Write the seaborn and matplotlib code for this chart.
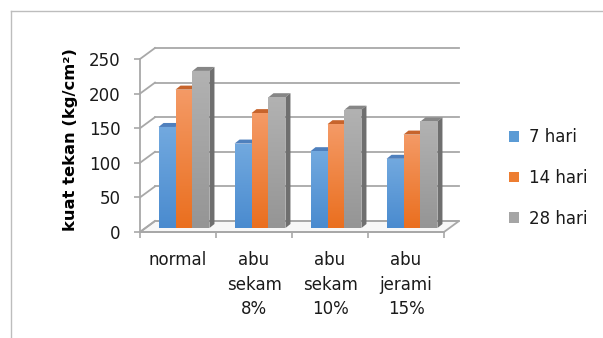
import numpy as np
import pandas as pd
import matplotlib
matplotlib.use("Agg")
import matplotlib.pyplot as plt
import seaborn as sns
from matplotlib.transforms import offset_copy
from matplotlib.patches import Polygon, Rectangle
from matplotlib.lines import Line2D
from matplotlib.colors import to_rgb

# ---------------- data ----------------
categories = ["normal", "abu\nsekam\n8%", "abu\nsekam\n10%", "abu\njerami\n15%"]
series = ["7 hari", "14 hari", "28 hari"]
vals_7 = [146, 122, 111, 100]
vals_14 = [200, 166, 150, 135]
vals_28 = [227, 189, 171, 154]
y_ticks = [0, 50, 100, 150, 200, 250]
y_label = "kuat tekan (kg/cm²)"

# ---------------- style ----------------
palette = ["#5B9BD5", "#ED7D31", "#A5A5A5"]
grad_top = ["#72a9df", "#f49a66", "#b2b2b2"]
grad_bot = ["#4a8bcf", "#ea6f1f", "#959595"]
top_face = ["#4f80bd", "#c7642c", "#868686"]
side_face = ["#3d6d9e", "#b05a20", "#6f6f6f"]
grid_col = "#a8a8a8"

df = pd.DataFrame({
    "kategori": categories * 3,
    "hari": np.repeat(series, len(categories)),
    "nilai": vals_7 + vals_14 + vals_28,
})

plt.rcParams["font.family"] = ["DejaVu Sans"]
W, H = 603, 338
fig = plt.figure(figsize=(W / 100, H / 100), dpi=100)
fig.patch.set_facecolor("white")

# front plane of the chart
AX_L, AX_B, AX_W, AX_H = 140, 232, 304, 173
ax = fig.add_axes([AX_L / W, (H - AX_B) / H, AX_W / W, AX_H / H])
ax.set_facecolor("none")

sns.barplot(data=df, x="kategori", y="nilai", hue="hari", palette=palette,
            width=0.67, saturation=1, errorbar=None, linewidth=0, ax=ax)

bars = [p for p in ax.patches if isinstance(p, Rectangle) and p.get_height() > 0]
bars.sort(key=lambda p: p.get_x())

XL = (-0.5, len(categories) - 0.5)
YL = (0, 250)
sx = (XL[1] - XL[0]) / AX_W   # data units per pixel
sy = (YL[1] - YL[0]) / AX_H

# 3-D walls: back plane offset
bdx, bdy = 15 * sx, 11 * sy
floor = Polygon([(XL[0], 0), (XL[1], 0), (XL[1] + bdx, bdy), (XL[0] + bdx, bdy)],
                closed=True, facecolor="#f7f7f7", edgecolor=grid_col, lw=1.3,
                zorder=0.5, clip_on=False)
ax.add_patch(floor)
for t in y_ticks:
    ax.add_line(Line2D([XL[0] + bdx, XL[1] + bdx], [t + bdy, t + bdy], color=grid_col,
                       lw=1.3, zorder=0.6, clip_on=False))
    ax.add_line(Line2D([XL[0], XL[0] + bdx], [t, t + bdy], color=grid_col,
                       lw=1.3, zorder=0.6, clip_on=False))

# bars: shifted to mid depth, with top & side faces
bar_trans = offset_copy(ax.transData, fig=fig, x=6, y=4, units="dots")
ddx, ddy = 5 * sx, 4 * sy
pal_rgb = [to_rgb(c) for c in palette]
for i, p in enumerate(bars):
    fc = to_rgb(p.get_facecolor()[:3])
    k = int(np.argmin([sum((a - b) ** 2 for a, b in zip(fc, c)) for c in pal_rgb]))
    x0, w, h = p.get_x(), p.get_width(), p.get_height()
    z = 2 + 2 * i
    p.set_transform(bar_trans)
    p.set_zorder(z + 1)
    p.set_clip_on(False)
    c1, c2 = np.array(to_rgb(grad_top[k])), np.array(to_rgb(grad_bot[k]))
    tt = np.linspace(0, 1, 64)[:, None]
    img = (c1 * (1 - tt) + c2 * tt)[:, None, :]
    im = ax.imshow(img, extent=[x0, x0 + w, 0, h], aspect="auto", transform=bar_trans,
                   zorder=z + 1.5, interpolation="bilinear")
    im.set_clip_path(p)
    top = Polygon([(x0, h), (x0 + w, h), (x0 + w + ddx, h + ddy), (x0 + ddx, h + ddy)],
                  closed=True, facecolor=top_face[k], edgecolor="none",
                  transform=bar_trans, zorder=z, clip_on=False)
    side = Polygon([(x0 + w, 0), (x0 + w + ddx, ddy), (x0 + w + ddx, h + ddy), (x0 + w, h)],
                   closed=True, facecolor=side_face[k], edgecolor="none",
                   transform=bar_trans, zorder=z, clip_on=False)
    ax.add_patch(top)
    ax.add_patch(side)

ax.set_xlim(*XL)
ax.set_ylim(*YL)

for s in ["top", "right"]:
    ax.spines[s].set_visible(False)
for s in ["left", "bottom"]:
    ax.spines[s].set_color(grid_col)
    ax.spines[s].set_linewidth(1.3)
    ax.spines[s].set_zorder(0.7)
ax.set_yticks(y_ticks)
ax.set_yticklabels([str(v) for v in y_ticks])
ax.tick_params(axis="y", length=4, width=1.2, color=grid_col, pad=10,
               labelsize=12, labelcolor="#1a1a1a")
ax.set_xticks(np.arange(len(categories) + 1) - 0.5)
ax.set_xticklabels([""] * (len(categories) + 1))
ax.set_xticks(np.arange(len(categories)), minor=True)
ax.set_xticklabels(categories, minor=True)
ax.tick_params(axis="x", which="major", length=4, width=1.2, color=grid_col)
ax.tick_params(axis="x", which="minor", length=0, pad=14, labelsize=12,
               labelcolor="#1a1a1a")
for t in ax.get_xticklabels(minor=True):
    t.set_linespacing(1.45)
ax.set_xlabel("")
ax.set_ylabel("")

fig.text(70 / W, 1 - 140 / H, y_label, rotation=90, ha="center", va="center",
         fontsize=11.8, fontweight="bold", color="#000000")

handles, labels = ax.get_legend_handles_labels()
leg = ax.legend(handles, labels, loc="center left",
                bbox_to_anchor=(509 / W, 1 - 178 / H), bbox_transform=fig.transFigure,
                frameon=False, fontsize=12, handlelength=0.6, handleheight=0.6,
                handletextpad=0.6, labelspacing=1.35, borderpad=0, borderaxespad=0)
for txt in leg.get_texts():
    txt.set_color("#1a1a1a")

fig.add_artist(Line2D([11 / W, 11 / W], [1 - 11 / H, 0], transform=fig.transFigure,
                      color="#bdbdbd", lw=1))
fig.add_artist(Line2D([11 / W, 1], [1 - 11 / H, 1 - 11 / H], transform=fig.transFigure,
                      color="#bdbdbd", lw=1))

fig.savefig("out.png", dpi=100)
